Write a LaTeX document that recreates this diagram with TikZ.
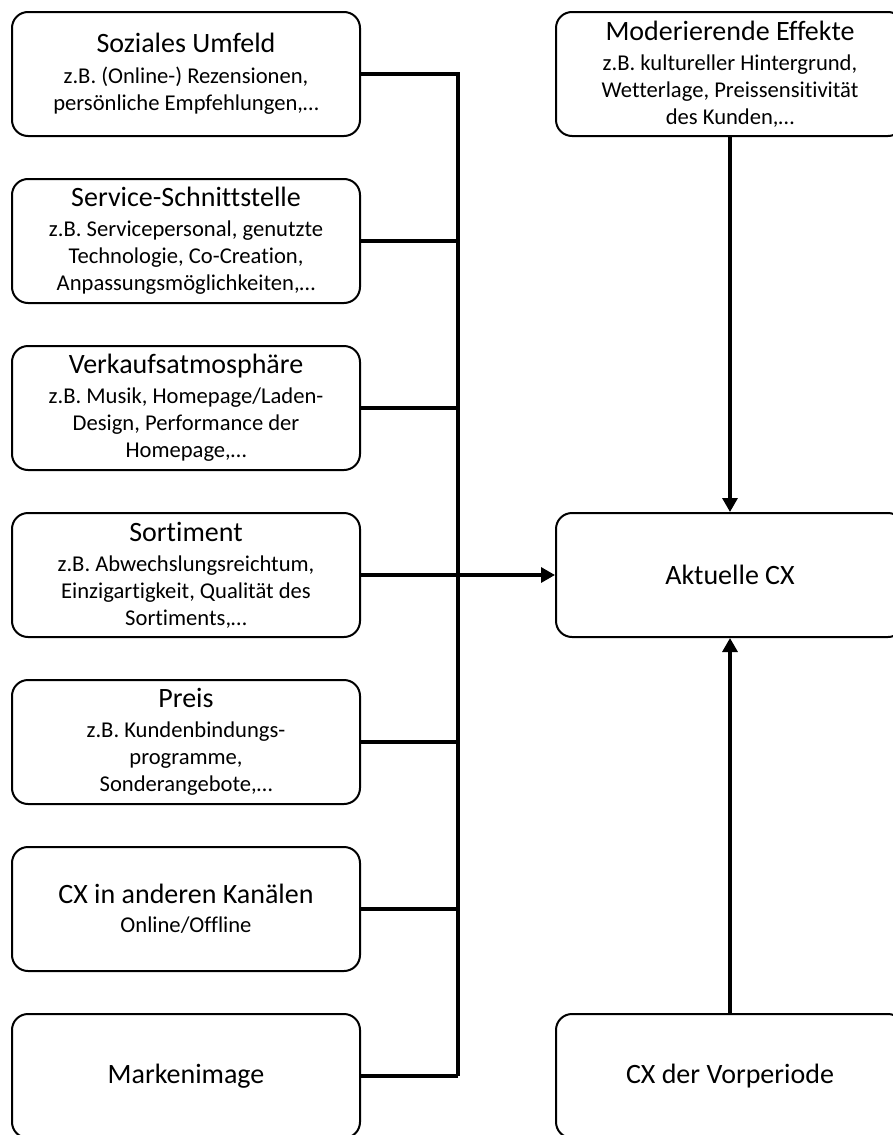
\documentclass[tikz,border=0pt]{standalone}
\usepackage{fontspec}
\setmainfont{Carlito}[Ligatures={NoCommon,NoContextual}]
\usetikzlibrary{arrows.meta}
\newcommand{\ttl}{\fontsize{28}{34}\selectfont}
\begin{document}
\begin{tikzpicture}[x=1pt,y=-1pt,
  box/.style={draw=black,line width=2pt,rounded corners=16pt,fill=white,
    minimum width=348pt,minimum height=124pt,inner sep=0pt,align=center,
    font=\fontsize{22.6}{27}\selectfont},
  conn/.style={draw=black,line width=3.2pt},
  arr/.style={conn,-{Triangle[length=14pt,width=15pt]}}]
\useasboundingbox (0,0) rectangle (893,1135);
\clip (0,0) rectangle (893,1135);
% left column
\node[box] (b1) at (186,74) {{\ttl Soziales Umfeld}\\[4pt]z.B. (Online-) Rezensionen,\\persönliche Empfehlungen,…};
\node[box] (b2) at (186,241) {{\ttl Service-Schnittstelle}\\[3pt]z.B. Servicepersonal, genutzte\\Technologie, Co-Creation,\\Anpassungsmöglichkeiten,…};
\node[box] (b3) at (186,408) {{\ttl Verkaufsatmosphäre}\\[3pt]z.B. Musik, Homepage/Laden-\\Design, Performance der\\Homepage,…};
\node[box] (b4) at (186,575) {{\ttl Sortiment}\\[3pt]z.B. Abwechslungsreichtum,\\Einzigartigkeit, Qualität des\\Sortiments,…};
\node[box] (b5) at (186,742) {{\ttl Preis}\\[3pt]z.B. Kundenbindungs-\\programme,\\Sonderangebote,…};
\node[box] (b6) at (186,909) {{\ttl CX in anderen Kanälen}\\[2pt]Online/Offline};
\node[box] (b7) at (186,1076) {\ttl Markenimage};
% right column
\node[box] (mod) at (730,74) {{\ttl Moderierende Effekte}\\[3pt]z.B. kultureller Hintergrund,\\Wetterlage, Preissensitivität\\des Kunden,…};
\node[box] (akt) at (730,575) {\ttl Aktuelle CX};
\node[box] (vor) at (730,1076) {\ttl CX der Vorperiode};
% bus
\coordinate (busbot) at (458,1076);
\draw[conn] (b1.east) -| (busbot);
\draw[conn] (b7.east) -- (busbot);
\foreach \n in {b2,b3,b5,b6}{\draw[conn] (\n.east) -- (\n.east -| busbot);}
\draw[arr] (b4.east) -- (akt.west);
\draw[arr] (mod.south) -- (akt.north);
\draw[arr] (vor.north) -- (akt.south);
\end{tikzpicture}
\end{document}
